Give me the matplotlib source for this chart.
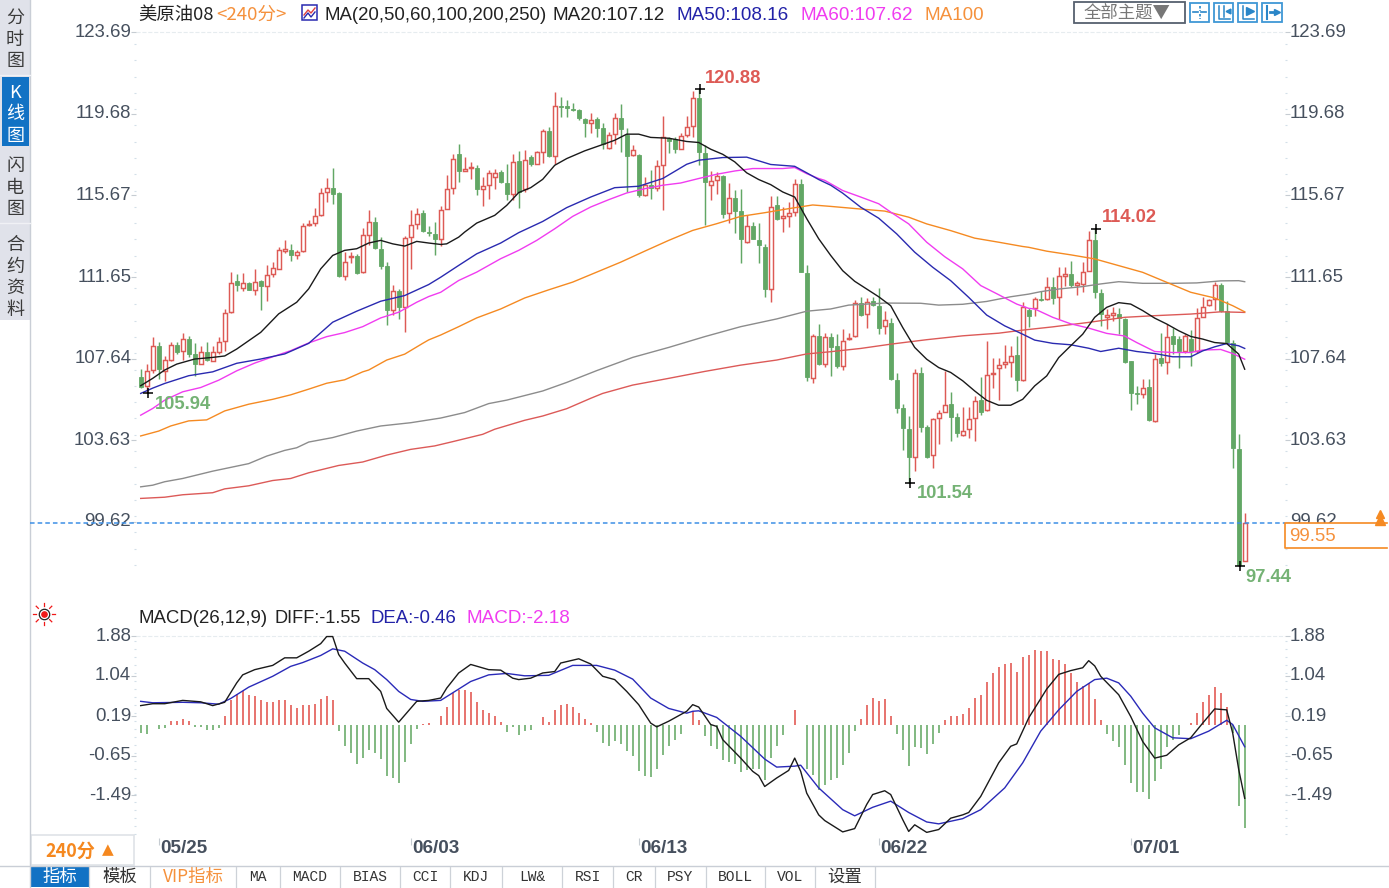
import numpy as np
import matplotlib
matplotlib.use('Agg')
import matplotlib.pyplot as plt
from matplotlib.patches import Rectangle
from matplotlib.transforms import Affine2D

W, H = 1389, 888
SANS = ['Liberation Sans', 'Noto Sans CJK SC', 'DejaVu Sans']
CJK = ['Noto Sans CJK SC', 'Liberation Sans', 'DejaVu Sans']
plt.rcParams['font.family'] = SANS

# ===== candles =====
opens = [
    106.72,106.31,107.08,108.24,107.04,107.57,108.31,108.00,108.60,107.87,
    107.37,107.95,107.54,107.98,108.49,109.92,111.45,111.12,111.35,111.02,
    111.45,111.23,111.81,112.05,112.92,112.96,112.71,112.91,114.19,114.30,
    114.68,115.83,116.04,115.78,111.72,112.63,112.68,111.89,113.73,114.35,
    113.04,112.17,110.05,110.95,110.20,113.61,114.27,114.81,113.86,113.78,
    113.53,115.01,116.04,117.68,116.86,117.01,117.03,115.96,116.19,116.57,
    116.81,116.29,115.71,117.34,115.99,117.55,117.22,117.80,118.83,117.62,
    120.07,120.05,119.93,119.85,119.41,119.23,119.41,118.95,118.00,118.70,
    119.47,118.65,117.64,117.64,115.67,116.16,116.04,117.14,118.46,118.41,
    117.96,118.62,119.06,120.43,117.75,116.16,116.40,116.62,114.81,115.55,
    114.89,113.37,114.15,113.48,113.12,111.07,115.17,114.56,114.63,114.84,
    116.21,111.86,106.68,108.74,107.37,108.68,108.24,107.28,108.58,108.76,
    110.37,109.83,110.45,110.24,109.25,109.39,106.59,105.20,104.16,102.82,
    106.92,104.30,102.88,104.74,105.03,105.43,104.77,103.89,104.16,104.74,
    105.59,105.10,106.87,107.17,107.40,107.48,107.81,106.58,110.03,110.13,
    110.57,110.57,111.18,110.65,111.72,111.80,111.24,111.31,111.96,113.48,
    110.86,109.70,109.80,109.83,109.58,107.50,105.95,105.89,106.25,104.57,
    107.65,107.48,108.76,108.60,108.02,108.60,108.02,109.70,110.27,110.57,
    111.27,109.99,108.43,103.21,97.71]
highs = [
    107.13,107.37,108.69,108.44,107.78,108.44,108.44,108.90,108.77,108.39,
    108.24,108.47,108.28,108.69,110.08,111.89,111.81,111.87,111.40,112.02,
    111.48,112.22,112.38,113.12,113.48,113.28,112.96,114.30,114.43,115.06,
    116.04,116.52,117.03,115.83,112.87,112.87,112.76,114.06,114.96,114.60,
    113.61,112.38,111.28,111.07,113.69,114.96,115.04,114.96,114.14,114.35,
    115.12,116.65,117.68,118.21,117.55,117.31,117.14,116.57,116.93,116.98,
    116.93,117.22,117.68,117.85,117.91,117.63,117.85,118.92,119.03,120.72,
    120.51,120.34,120.18,119.89,119.44,119.69,119.49,119.20,118.78,119.69,
    120.15,118.95,118.13,117.68,116.57,116.90,117.39,119.56,118.51,118.54,
    118.74,119.57,120.80,120.88,118.13,116.86,116.81,116.65,116.29,115.94,
    115.99,114.68,114.35,114.30,113.28,115.62,115.62,115.09,115.34,116.45,
    116.49,112.22,108.85,109.34,108.90,108.88,108.85,109.09,108.88,110.52,
    110.65,110.60,110.68,111.11,109.99,109.66,106.91,105.40,104.82,107.12,
    107.25,104.38,104.74,105.10,107.04,106.02,104.99,105.26,105.28,105.81,
    106.74,108.52,107.69,107.65,108.30,108.27,108.76,110.40,110.12,110.68,
    110.98,111.64,111.64,112.16,112.13,112.46,111.44,112.37,113.93,114.02,
    111.06,110.08,110.16,110.13,109.63,107.53,106.30,106.66,106.63,107.86,
    108.88,109.34,109.14,108.76,108.84,109.04,110.13,110.68,110.57,111.39,
    111.34,110.49,108.55,103.95,100.05]
lows = [
    106.22,105.94,106.91,106.63,106.55,107.50,107.87,107.57,107.70,106.80,
    107.37,107.50,107.50,107.87,108.03,109.89,110.94,110.94,110.99,110.77,
    110.03,110.49,111.64,112.02,112.82,112.46,112.55,112.87,114.15,114.15,
    114.63,115.34,115.25,111.64,111.51,112.33,111.81,111.86,113.20,113.04,
    112.05,109.31,109.80,109.59,108.93,112.05,114.02,113.86,113.69,112.71,
    113.17,114.98,115.75,116.32,116.85,116.45,115.67,115.14,115.50,115.96,
    116.29,115.45,115.42,115.06,115.83,117.09,117.19,117.27,117.55,117.19,
    119.49,119.49,119.82,119.39,118.54,118.75,118.54,117.96,117.96,118.21,
    117.80,115.83,117.59,115.58,115.63,115.47,115.88,114.93,117.72,117.72,
    117.93,118.54,118.54,117.14,114.19,115.45,115.75,114.56,114.32,113.81,
    112.33,113.33,113.50,112.33,110.66,110.41,114.47,113.86,114.11,114.63,
    111.89,106.55,106.42,107.32,107.24,106.79,107.20,107.07,108.56,108.68,
    109.75,109.14,110.24,108.84,108.84,106.59,104.99,103.13,101.54,102.11,
    104.05,102.77,102.28,103.46,105.03,103.59,103.80,103.84,103.75,103.59,
    104.85,105.07,106.22,105.59,107.17,106.74,106.05,106.55,109.21,109.75,
    110.45,110.52,110.32,109.58,111.23,111.18,110.78,110.90,111.93,110.62,
    109.26,109.09,109.47,108.84,107.42,105.10,105.43,105.72,104.57,104.54,
    107.28,106.87,107.86,107.20,107.94,107.28,107.94,109.67,110.24,110.04,
    109.94,108.43,102.28,97.44,97.68]
closes = [
    106.26,107.04,108.24,107.13,107.57,108.33,107.95,108.60,107.87,107.37,
    107.95,107.57,107.95,108.47,109.87,111.35,111.28,111.35,111.02,111.41,
    111.23,111.76,112.09,112.96,113.04,112.71,112.87,114.14,114.24,114.65,
    115.78,116.04,115.71,111.72,112.38,112.68,111.86,113.69,114.35,113.09,
    112.18,110.05,110.95,110.16,113.56,114.22,114.73,113.91,113.81,113.50,
    114.96,115.99,117.47,116.85,116.95,117.06,115.96,116.12,116.77,116.78,
    116.32,115.71,117.31,115.83,117.39,117.19,117.77,118.82,117.59,120.05,
    120.02,119.97,119.85,119.44,119.20,119.39,118.98,118.21,118.62,119.47,
    118.90,117.60,117.91,115.67,116.16,116.04,117.09,118.51,118.33,117.93,
    118.57,119.03,120.43,117.80,116.32,116.37,116.60,114.76,115.55,114.89,
    113.53,114.15,113.53,113.24,111.07,115.09,114.52,114.63,114.81,116.21,
    111.92,106.72,108.74,107.37,108.69,108.19,107.28,108.52,108.65,110.37,
    109.80,110.44,110.29,109.14,109.55,106.63,105.23,104.21,102.80,106.92,
    104.28,102.80,104.69,104.95,105.35,104.77,104.00,104.08,104.69,105.56,
    105.02,106.82,106.92,107.33,107.45,107.78,106.58,110.16,109.75,110.57,
    110.52,111.18,110.62,111.69,111.80,111.27,111.34,111.92,113.48,110.93,
    109.83,109.78,109.86,109.63,107.45,105.97,105.89,106.22,104.61,107.61,
    107.42,108.71,108.35,108.02,108.76,108.02,109.63,110.19,110.52,111.27,
    109.99,108.48,103.26,97.50,99.55]

# ===== moving averages, (candle index, price) =====
ma20_i = [0,2,4,6,9,12,14,16,18,20,23,26,28,30,32,34,36,38,40,42,44,46,48,50,51,53,54,56,59,61,63,65,67,69,71,74,77,79,81,83,85,88,91,93,95,97,99,101,103,105,107,109,111,113,115,117,119,121,123,125,127,129,131,133,135,137,139,141,143,145,147,149,151,153,155,157,159,161,163,165,167,169,171,173,175,177,179,181,183,184]
ma20_v = [106.31,106.67,107.08,107.37,107.62,107.70,107.77,108.11,108.52,108.93,109.84,110.41,111.07,112.05,112.71,112.96,113.04,113.32,113.45,113.28,113.17,113.40,113.32,113.25,113.28,113.61,113.86,114.30,114.68,115.17,115.80,116.04,116.45,117.14,117.47,117.85,118.16,118.37,118.67,118.67,118.51,118.47,118.31,118.26,117.93,117.68,117.31,116.77,116.44,116.19,115.83,115.58,114.52,113.53,112.71,111.96,111.44,111.06,110.68,110.24,109.17,108.19,107.61,107.20,106.96,106.55,106.05,105.59,105.35,105.35,105.64,106.30,106.79,107.69,108.27,108.84,109.67,110.16,110.39,110.32,110.00,109.63,109.34,109.01,108.73,108.60,108.43,108.38,107.86,107.12]
ma50_i = [0,2,4,8,12,16,20,24,28,32,36,40,44,48,50,53,56,60,63,67,71,75,79,83,87,91,93,97,101,105,109,111,113,115,117,120,123,126,129,132,135,138,141,144,147,149,152,155,158,160,163,166,169,172,175,177,179,181,183,184]
ma50_v = [105.93,106.19,106.42,106.80,106.99,107.41,107.62,107.87,108.39,109.43,109.97,110.46,110.74,111.28,111.64,112.22,112.79,113.32,113.83,114.38,115.06,115.58,116.04,116.11,116.49,117.19,117.39,117.52,117.54,117.18,117.09,116.77,116.44,116.16,115.77,115.08,114.54,113.77,112.87,112.13,111.47,110.65,109.78,109.25,108.84,108.55,108.39,108.32,108.15,107.99,108.15,107.99,107.89,107.73,107.73,108.02,108.22,108.38,108.27,108.14]
ma60_i = [0,2,4,7,10,13,16,19,22,25,28,31,34,37,40,43,46,48,50,53,56,60,63,66,69,72,75,78,81,84,87,90,93,96,99,102,107,109,111,113,114,117,120,123,125,128,131,134,137,140,143,146,148,149,152,155,158,161,164,166,169,172,175,177,180,182,184]
ma60_v = [104.86,105.19,105.60,106.01,106.22,106.58,107.04,107.42,107.73,108.03,108.41,108.72,108.92,109.21,109.64,109.92,110.41,110.69,110.90,111.48,111.89,112.55,112.96,113.45,114.02,114.63,115.09,115.45,115.78,115.99,116.16,116.27,116.49,116.70,116.86,116.98,116.98,117.03,116.73,116.49,116.40,115.90,115.58,115.25,114.84,114.26,113.36,112.65,112.05,111.23,110.78,110.32,110.11,110.08,109.67,109.35,109.14,108.88,108.75,108.43,107.99,107.94,107.94,108.06,108.09,107.89,107.61]
ma100_i = [0,3,5,8,11,14,18,22,25,28,31,34,37,38,41,44,47,48,50,53,56,60,64,68,72,76,80,84,88,92,96,100,104,108,112,115,120,124,128,131,135,139,143,147,148,151,155,159,163,167,171,175,179,182,184]
ma100_v = [103.84,104.08,104.33,104.58,104.63,105.07,105.40,105.64,105.86,106.14,106.43,106.60,106.99,107.08,107.57,107.86,108.39,108.56,108.80,109.21,109.64,110.08,110.62,111.02,111.40,111.89,112.38,112.92,113.45,113.94,114.27,114.63,114.81,115.01,115.19,115.12,114.99,114.89,114.59,114.26,113.93,113.56,113.36,113.15,113.11,112.92,112.74,112.54,112.21,111.88,111.39,110.90,110.62,110.24,109.94]
ma200_i = [0,2,4,7,12,18,21,24,26,28,32,36,40,45,50,54,58,61,67,71,76,82,88,94,100,106,111,115,118,124,130,133,137,141,145,148,150,153,157,160,163,167,172,176,180,183,184]
ma200_v = [101.34,101.42,101.59,101.75,102.11,102.48,102.85,103.13,103.26,103.54,103.76,104.08,104.33,104.49,104.72,104.99,105.43,105.60,106.05,106.47,107.05,107.70,108.19,108.72,109.21,109.59,109.97,110.08,110.27,110.37,110.36,110.27,110.31,110.45,110.68,110.81,110.93,111.06,111.18,111.31,111.42,111.34,111.34,111.36,111.46,111.47,111.42]
ma250_i = [0,4,7,12,14,18,22,25,28,33,37,41,45,49,52,57,59,64,67,71,75,77,82,88,94,100,106,111,115,120,125,131,137,143,147,152,158,164,169,175,180,184]
ma250_v = [100.77,100.83,100.95,101.05,101.24,101.39,101.65,101.75,102.03,102.39,102.56,102.90,103.18,103.35,103.56,103.92,104.17,104.61,104.82,105.18,105.69,105.93,106.34,106.67,107.01,107.32,107.57,107.87,107.98,108.14,108.35,108.57,108.76,108.89,109.04,109.20,109.42,109.67,109.75,109.83,109.94,109.91]

# ===== MACD panel =====
macd_bars = [
    -.16,-.18,-.01,-.08,-.06,.08,.08,.13,.08,-.05,
    -.05,-.11,-.11,-.06,.20,.52,.66,.71,.64,.61,
    .52,.49,.49,.52,.52,.42,.36,.42,.42,.45,
    .55,.61,.52,-.12,-.44,-.59,-.82,-.69,-.52,-.59,
    -.72,-1.07,-1.13,-1.23,-.78,-.40,-.08,.02,.04,.01,
    .20,.39,.68,.74,.74,.70,.49,.32,.26,.20,
    .07,-.15,-.05,-.21,-.12,-.11,-.01,.17,.07,.32,
    .42,.45,.39,.26,.13,.04,-.15,-.37,-.44,-.34,
    -.40,-.56,-.66,-.97,-1.07,-1.10,-.94,-.63,-.44,-.31,
    -.18,.01,.29,.10,-.24,-.44,-.50,-.75,-.79,-.82,
    -1.00,-.96,-.93,-.94,-1.16,-.70,-.44,-.21,-.01,.32,
    .01,-.94,-1.05,-1.37,-1.26,-1.17,-1.13,-.84,-.59,-.13,
    .13,.42,.57,.51,.55,.20,-.20,-.52,-.87,-.47,
    -.49,-.62,-.40,-.17,.10,.20,.20,.23,.36,.57,
    .64,.90,1.09,1.22,1.28,1.31,1.12,1.44,1.49,1.59,
    1.56,1.56,1.40,1.37,1.28,1.09,.90,.83,.89,.55,
    .10,-.18,-.34,-.47,-.85,-1.23,-1.42,-1.42,-1.56,-1.19,
    -.94,-.47,-.31,-.21,.01,.04,.26,.49,.64,.80,
    .68,.38,-.17,-1.72,-2.18]
diff_i = [0,2,4,7,10,12,14,16,17,19,22,24,26,28,30,31,32,33,34,36,38,40,41,43,46,48,50,51,53,55,58,60,62,63,65,67,69,70,73,75,77,79,81,83,85,86,88,91,92,93,95,96,97,100,102,103,104,106,108,109,110,111,113,114,117,119,121,122,124,125,127,128,129,131,133,135,137,138,140,143,145,146,148,151,153,155,157,158,159,160,163,165,167,169,171,173,175,177,179,181,182,183,184]
diff_v = [.41,.45,.45,.52,.49,.41,.48,.89,1.06,1.17,1.26,1.42,1.42,1.56,1.72,1.87,1.87,1.49,1.31,.98,.98,.71,.35,.06,.50,.52,.57,.78,1.10,1.28,1.17,1.16,.99,.96,.99,1.10,1.13,1.31,1.40,1.29,1.03,.96,.71,.43,.04,-.04,.08,.29,.43,.38,.01,-.03,-.31,-.70,-.98,-1.07,-1.30,-1.12,-.96,-.70,-.98,-1.44,-1.90,-2.02,-2.26,-2.19,-1.68,-1.47,-1.39,-1.47,-2.00,-2.25,-2.11,-2.27,-2.21,-1.97,-1.90,-1.85,-1.51,-.80,-.45,-.40,.15,.76,1.07,1.15,1.21,1.36,1.25,1.03,.64,.18,-.35,-.70,-.64,-.42,-.27,.04,.34,.32,-.17,-.94,-1.55]
dea_i = [0,2,7,10,13,15,18,22,25,27,30,32,34,37,39,41,43,45,47,50,52,55,58,61,64,68,72,76,79,82,85,88,91,92,93,96,100,104,106,109,110,113,117,119,122,125,128,131,133,137,140,144,147,150,153,156,159,161,163,165,167,169,172,175,178,181,182,184]
dea_v = [.50,.47,.48,.47,.44,.56,.80,1.03,1.24,1.32,1.47,1.61,1.56,1.31,1.17,.96,.71,.54,.50,.52,.68,.92,1.06,1.09,1.04,1.05,1.26,1.26,1.16,.97,.57,.35,.25,.29,.30,.16,-.24,-.72,-.89,-.87,-.85,-1.33,-1.79,-1.92,-1.74,-1.61,-1.85,-2.05,-2.09,-1.98,-1.79,-1.33,-.80,-.13,.32,.71,.96,.99,.89,.61,.25,-.06,-.27,-.29,-.13,.10,.01,-.46]

price_ticks = [123.69, 119.68, 115.67, 111.65, 107.64, 103.63, 99.62]
macd_ticks = [1.88, 1.04, 0.19, -0.65, -1.49]
date_i = [3, 45, 83, 123, 165]
date_labels = ['05/25', '06/03', '06/13', '06/22', '07/01']
last_price = 99.55

RED, GREEN = '#dd5a55', '#62a765'
LBL = '#46505e'
ORANGE = '#f5913c'

fig = plt.figure(figsize=(W / 100, H / 100), dpi=100, facecolor='white')

def px_axes(l, t, r, b, **kw):
    return fig.add_axes([l / W, 1 - b / H, (r - l) / W, (b - t) / H], **kw)

# pixel canvas for the window chrome
ui = px_axes(0, 0, W, H)
ui.set_xlim(0, W); ui.set_ylim(H, 0); ui.axis('off')

def box(x0, y0, x1, y1, fc='none', ec='none', lw=1, **kw):
    ui.add_patch(Rectangle((x0, y0), x1 - x0, y1 - y0, fc=fc, ec=ec, lw=lw, **kw))

def txt(x, y, s, size=13, color='black', ha='left', family=SANS, **kw):
    return ui.text(x, y, s, fontsize=size, color=color, ha=ha, va='center', family=family, **kw)

def nudge(labels, dx, dy):
    # tick labels sit a little off their ticks in the original
    for t in labels:
        t.set_transform(t.get_transform() + Affine2D().translate(dx, dy))

# price panel: y px = 32 + (123.69 - p) * 20.35, x px = 140.7 + 6 * i
PT, PB, AL, AR = 22, 600, 136, 1285
ax = px_axes(AL, PT, AR, PB)
xlim = ((AL - 140.7) / 6, (AR - 140.7) / 6)
ax.set_xlim(xlim)
ax.set_ylim(123.69 - (PB - 32) / 20.35, 123.69 + (32 - PT) / 20.35)
ax.patch.set_alpha(0)
for s in ax.spines.values():
    s.set_visible(False)

idx = np.arange(len(closes))
o, h, l, c = map(np.array, (opens, highs, lows, closes))
up = c >= o
ax.vlines(idx, l, h, color=[RED if u else GREEN for u in up], lw=1.05, zorder=2)
ax.bar(idx[up], np.maximum(c - o, 0.03)[up], bottom=o[up], width=0.62, fc='white', ec=RED, lw=1.05, zorder=2.1)
ax.bar(idx[~up], (o - c)[~up], bottom=c[~up], width=0.72, fc=GREEN, ec=GREEN, lw=0.6, zorder=2.1)

ax.plot(ma250_i, ma250_v, color='#dc5a58', lw=1.0, zorder=3)
ax.plot(ma200_i, ma200_v, color='#8c8c8c', lw=1.0, zorder=3)
ax.plot(ma100_i, ma100_v, color='#f58a22', lw=1.0, zorder=3)
ax.plot(ma60_i, ma60_v, color='#f03cf0', lw=1.0, zorder=3)
ax.plot(ma50_i, ma50_v, color='#2a2ab0', lw=1.0, zorder=3)
ax.plot(ma20_i, ma20_v, color='#1a1a1a', lw=1.0, zorder=3)

ax.set_yticks(price_ticks)
ax.set_yticklabels([f'{v:.2f}' for v in price_ticks])
ax.set_yticks(np.arange(97.5, 123.6, 0.8), minor=True)
ax.set_xticks([])
ax.tick_params(axis='y', which='major', left=True, right=True, labelleft=True, labelright=True,
               length=3.5, width=0.8, color='#c6ccd2', labelcolor=LBL, labelsize=13.4, pad=0)
ax.tick_params(axis='y', which='minor', left=True, right=True, length=1.5, width=0.8, color='#d3dfe8')
for tk in ax.yaxis.get_major_ticks():
    nudge([tk.label1, tk.label2], 0, 2)
ax.axhline(price_ticks[0], color='#e6ecef', lw=0.8, ls='--', zorder=1)
ax.hlines(last_price, (30 - 140.7) / 6, xlim[1], color='#3d90e6', lw=1.1, linestyles=(0, (3, 2)), clip_on=False, zorder=4)

# high / low marks
marks = [(93, 120.88, '120.88', RED, 5, 11), (159, 114.02, '114.02', RED, 6, 11),
         (128, 101.54, '101.54', '#74b274', 7, -11), (1, 105.94, '105.94', '#74b274', 7, -11),
         (183, 97.44, '97.44', '#74b274', 5, -11)]
for mi, mv, ms, mc, dx, dy in marks:
    mx = mi + 0.2
    ax.plot([mx], [mv], marker='+', ms=7.5, mew=1.1, color='black', zorder=5, clip_on=False)
    ax.annotate(ms, (mx, mv), xytext=(dx, dy), textcoords='offset pixels', color=mc, fontsize=13.2,
                fontweight='bold', va='center', ha='left', zorder=6, annotation_clip=False)

# MACD panel: y px = 725 - v * 47.3
MT, MB = 626, 838
mx_ax = px_axes(AL, MT, AR, MB)
mx_ax.set_xlim(xlim)
mx_ax.set_ylim((725 - MB) / 47.3, (725 - MT) / 47.3)
mx_ax.patch.set_alpha(0)
for s in mx_ax.spines.values():
    s.set_visible(False)
bars = np.array(macd_bars)
mx_ax.vlines(idx, 0, bars, color=['#e4625c' if b > 0 else '#72b072' for b in bars], lw=1.25, zorder=2)
mx_ax.plot(dea_i, dea_v, color='#2a2ab8', lw=1.0, zorder=3)
mx_ax.plot(diff_i, diff_v, color='#1a1a1a', lw=1.0, zorder=4)
mx_ax.set_yticks(macd_ticks)
mx_ax.set_yticklabels([f'{v:.2f}' for v in macd_ticks])
mx_ax.set_yticks(np.arange(-2.3, 1.88, 0.17), minor=True)
mx_ax.tick_params(axis='y', which='major', left=True, right=True, labelleft=True, labelright=True,
                  length=3.5, width=0.8, color='#c6ccd2', labelcolor=LBL, labelsize=13.4, pad=0)
mx_ax.tick_params(axis='y', which='minor', left=True, right=True, length=1.5, width=0.8, color='#d3dfe8')
for tk in mx_ax.yaxis.get_major_ticks():
    nudge([tk.label1, tk.label2], 0, 2)
mx_ax.axhline(macd_ticks[0], color='#e6ecef', lw=0.8, ls='--', zorder=1)
mx_ax.set_xticks(date_i)
mx_ax.set_xticklabels(date_labels, ha='left', fontweight='bold', fontsize=13.6, color=LBL)
mx_ax.tick_params(axis='x', length=5, width=0.8, color='#c6ccd2', pad=-2)
nudge(mx_ax.get_xticklabels(), 2, 2)

# sidebar
box(0, 0, 30, 320, fc='#e0e2ea')
box(0, 320, 30, H, fc='white')
ui.plot([30, 30], [0, H], color='#c9ced6', lw=1)
box(2, 77, 29, 146, fc='#1272c4')
for y0 in (75, 223):
    ui.plot([0, 30], [y0, y0], color='#f0f1f5', lw=1)
tabs = [('分时图', 18, 21.5, '#3a3a3a'), ('K线图', 93, 21.5, 'white'), ('闪电图', 166, 21.5, '#3a3a3a'), ('合约资料', 245, 21.5, '#3a3a3a')]
for s, y, step, col in tabs:
    for k, ch in enumerate(s):
        txt(15, y + k * step, ch, size=13, color=col, ha='center', family=CJK)

# header row
txt(138, 15, '美原油08', 13.2, '#222222', family=CJK)
txt(216, 15, '<240分>', 13.4, ORANGE, family=CJK)
box(302, 5, 317, 20, ec='#2a2ab0', lw=1.1)
ui.plot([304, 308, 311, 315], [15, 10, 13, 8], color='#e04040', lw=1)
ui.plot([304, 308, 311, 315], [18, 13, 17, 12], color='#2a2ab0', lw=1)
txt(324, 15.5, 'MA(20,50,60,100,200,250)', 13.4, '#222222')
txt(552, 15.5, 'MA20:107.12', 13.6, '#222222')
txt(676, 15.5, 'MA50:108.16', 13.6, '#2222a8')
txt(801, 15.5, 'MA60:107.62', 13.6, '#f03cf0')
txt(925, 15.5, 'MA100', 13.6, ORANGE)

box(1074, 2, 1185, 23, fc='white', ec='#56606e', lw=1.3)
txt(1084, 13, '全部主题▼', 12.5, '#777777', family=CJK)
for x0, x1 in ((1190, 1209), (1214, 1233), (1238, 1257), (1262, 1282)):
    box(x0, 3, x1, 22, fc='white', ec='#3f97d6', lw=1.3)
blue = '#2a86c8'
ui.plot([1199.5, 1199.5], [6, 11], color=blue, lw=1.2, ls=(0, (1.5, 1)))
ui.plot([1199.5, 1199.5], [14, 19], color=blue, lw=1.2, ls=(0, (1.5, 1)))
ui.plot([1193, 1198], [12.5, 12.5], color=blue, lw=1.2)
ui.plot([1201, 1206], [12.5, 12.5], color=blue, lw=1.2)
ui.plot([1219, 1219, 1230], [6, 19, 19], color=blue, lw=1.1)
ui.plot([1224, 1224], [6, 17], color=blue, lw=1.1)
ui.plot([1228], [11], marker='<', ms=3.5, color=blue)
ui.plot([1243, 1243, 1254], [6, 19, 19], color=blue, lw=1.1)
ui.plot([1250], [11], marker='>', ms=6, color=blue)
ui.plot([1267, 1267], [6, 19], color=blue, lw=1.5)
ui.plot([1270, 1276], [12.5, 12.5], color=blue, lw=2)
ui.plot([1277], [12.5], marker='>', ms=5, color=blue)

# last price box, it covers the lower edge of the 99.62 label as in the original
ui.set_zorder(0); ax.set_zorder(1); mx_ax.set_zorder(1)
over = px_axes(0, 0, W, H)
over.set_xlim(0, W); over.set_ylim(H, 0); over.axis('off'); over.set_zorder(2)
over.add_patch(Rectangle((1285, 523), 104, 25, fc='white', ec='none'))
over.plot([1387, 1285, 1285, 1387], [523, 523, 548, 548], color='#f58a22', lw=1.2)
over.text(1289, 536, '99.55', fontsize=13.4, color=ORANGE, va='center')
over.plot([1380], [514], marker='^', ms=6, color='#f58a22')
over.plot([1380], [519.5], marker='^', ms=6.5, color='#f58a22')

# MACD header
txt(139, 618, 'MACD(26,12,9)', 13.4, '#222222')
txt(274, 618, 'DIFF:-1.55', 13.1, '#222222')
txt(371, 618, 'DEA:-0.46', 13.4, '#2222a8')
txt(467, 618, 'MACD:-2.18', 13.6, '#f03cf0')
ui.plot([44], [614], marker='o', ms=3.8, mfc='#f01818', mec='#f01818')
ui.plot([44], [614], marker='o', ms=7.5, mfc='none', mec='#222222', mew=0.9)
for a in np.arange(0, 2 * np.pi, np.pi / 4):
    ui.plot([44 + 8 * np.cos(a), 44 + 11 * np.cos(a)], [614 + 8 * np.sin(a), 614 + 11 * np.sin(a)], color='#f01818', lw=0.9)

# bottom bar
box(31, 835, 134, 865, fc='white', ec='#dfe3e8', lw=1.2)
txt(45, 851, '240分', 13, '#f5881f', family=CJK, fontweight='bold')
txt(102, 850, '▲', 11, '#f5881f', family=['DejaVu Sans'])
box(0, 866, W, H, fc='white')
ui.plot([0, W], [866, 866], color='#c9ced6', lw=1)
bottom_tabs = [('指标', 31, 89), ('模板', 89, 150), ('VIP指标', 150, 236), ('MA', 236, 280), ('MACD', 280, 340),
               ('BIAS', 340, 400), ('CCI', 400, 450), ('KDJ', 450, 502), ('LW&', 502, 562), ('RSI', 562, 613),
               ('CR', 613, 655), ('PSY', 655, 706), ('BOLL', 706, 765), ('VOL', 765, 815), ('设置', 815, 875)]
MONO = ['Liberation Mono', 'Noto Sans CJK SC']
for s, x0, x1 in bottom_tabs:
    if s == '指标':
        box(x0, 867, x1, 887, fc='#1272c4')
    col = 'white' if s == '指标' else (ORANGE if s == 'VIP指标' else '#333333')
    fam = CJK if s in ('指标', '模板', '设置', 'VIP指标') else MONO
    txt((x0 + x1) / 2, 877, s, 12.5 if fam is CJK else 10.5, col, ha='center', family=fam)
    ui.plot([x1, x1], [867, 887], color='#cdd2d8', lw=0.9)

fig.savefig('out.png', dpi=100)
